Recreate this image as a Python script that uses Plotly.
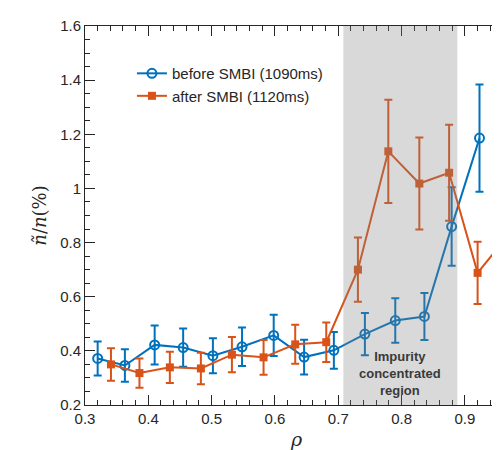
import plotly.graph_objects as go

# before SMBI (1090ms)
rho_before = [0.320, 0.363, 0.410, 0.455, 0.502, 0.548, 0.598, 0.646, 0.693, 0.742, 0.790, 0.836, 0.879, 0.923]
val_before = [0.372, 0.346, 0.422, 0.412, 0.382, 0.415, 0.457, 0.377, 0.402, 0.462, 0.512, 0.527, 0.859, 1.186]
err_before = [0.063, 0.060, 0.072, 0.071, 0.065, 0.071, 0.076, 0.064, 0.068, 0.078, 0.082, 0.087, 0.145, 0.198]

# after SMBI (1120ms)
rho_after = [0.341, 0.386, 0.434, 0.483, 0.532, 0.582, 0.632, 0.681, 0.731, 0.779, 0.828, 0.875, 0.920, 0.963]
val_after = [0.350, 0.318, 0.339, 0.335, 0.386, 0.376, 0.424, 0.432, 0.700, 1.137, 1.018, 1.058, 0.688, 0.812]
err_after = [0.060, 0.054, 0.058, 0.058, 0.065, 0.064, 0.072, 0.073, 0.119, 0.191, 0.170, 0.177, 0.115, 0.123]

region = [0.708, 0.888]
region_label = "Impurity<br>concentrated<br>region"

BLUE = "#0072BD"
ORANGE = "#D95319"
FONT = "Liberation Sans, Arial, sans-serif"

fig = go.Figure()
fig.add_trace(go.Scatter(
    x=rho_before, y=val_before, mode="lines+markers", name="before SMBI (1090ms)",
    line=dict(color=BLUE, width=2),
    marker=dict(symbol="circle-open", size=9, color=BLUE, line=dict(width=2, color=BLUE)),
    error_y=dict(type="data", array=err_before, visible=True, color=BLUE, thickness=2, width=4),
    cliponaxis=False,
))
fig.add_trace(go.Scatter(
    x=rho_after, y=val_after, mode="lines+markers", name="after SMBI (1120ms)",
    line=dict(color=ORANGE, width=2),
    marker=dict(symbol="square", size=8, color=ORANGE),
    error_y=dict(type="data", array=err_after, visible=True, color=ORANGE, thickness=2, width=4),
    cliponaxis=False,
))

fig.add_shape(type="rect", xref="x", yref="paper", x0=region[0], x1=region[1], y0=0, y1=1,
              fillcolor="rgba(128,128,128,0.3)", line=dict(width=0), layer="above")
fig.add_annotation(x=(region[0] + region[1]) / 2, y=0.316, xref="x", yref="y",
                   text="<b>" + region_label + "</b>", showarrow=False,
                   font=dict(family=FONT, size=13, color="#3a3a3a"), align="center",
                   yanchor="middle")

axis_common = dict(showline=True, linecolor="#262626", linewidth=1, mirror="allticks",
                   ticks="inside", ticklen=10, tickwidth=1, tickcolor="#262626",
                   showgrid=False, zeroline=False, automargin=False,
                   tickfont=dict(family=FONT, size=15, color="#262626"))

fig.update_xaxes(range=[0.3, 0.968], dtick=0.1, tick0=0.3,
                 minor=dict(dtick=0.02, ticks="inside", ticklen=5, tickcolor="#262626"),
                 title=dict(text="<i>ρ</i>", font=dict(family="DejaVu Serif", size=19, color="#262626"),
                            standoff=6),
                 **axis_common)
fig.update_yaxes(range=[0.2, 1.6], dtick=0.2, tick0=0.2,
                 minor=dict(dtick=0.05, ticks="inside", ticklen=5, tickcolor="#262626"),
                 title=dict(text="<i>ñ</i>/<i>n</i>(%)", font=dict(family="DejaVu Serif", size=18, color="#262626"),
                            standoff=8),
                 **axis_common)

fig.update_layout(
    width=500, height=450,
    margin=dict(l=77, r=0, t=18, b=53),
    plot_bgcolor="white", paper_bgcolor="white",
    showlegend=True,
    legend=dict(x=0.111, y=0.918, xanchor="left", yanchor="top",
                bgcolor="rgba(0,0,0,0)", font=dict(family=FONT, size=15, color="#262626"),
                tracegroupgap=0, itemwidth=30),
)

fig.write_html("out.html")
